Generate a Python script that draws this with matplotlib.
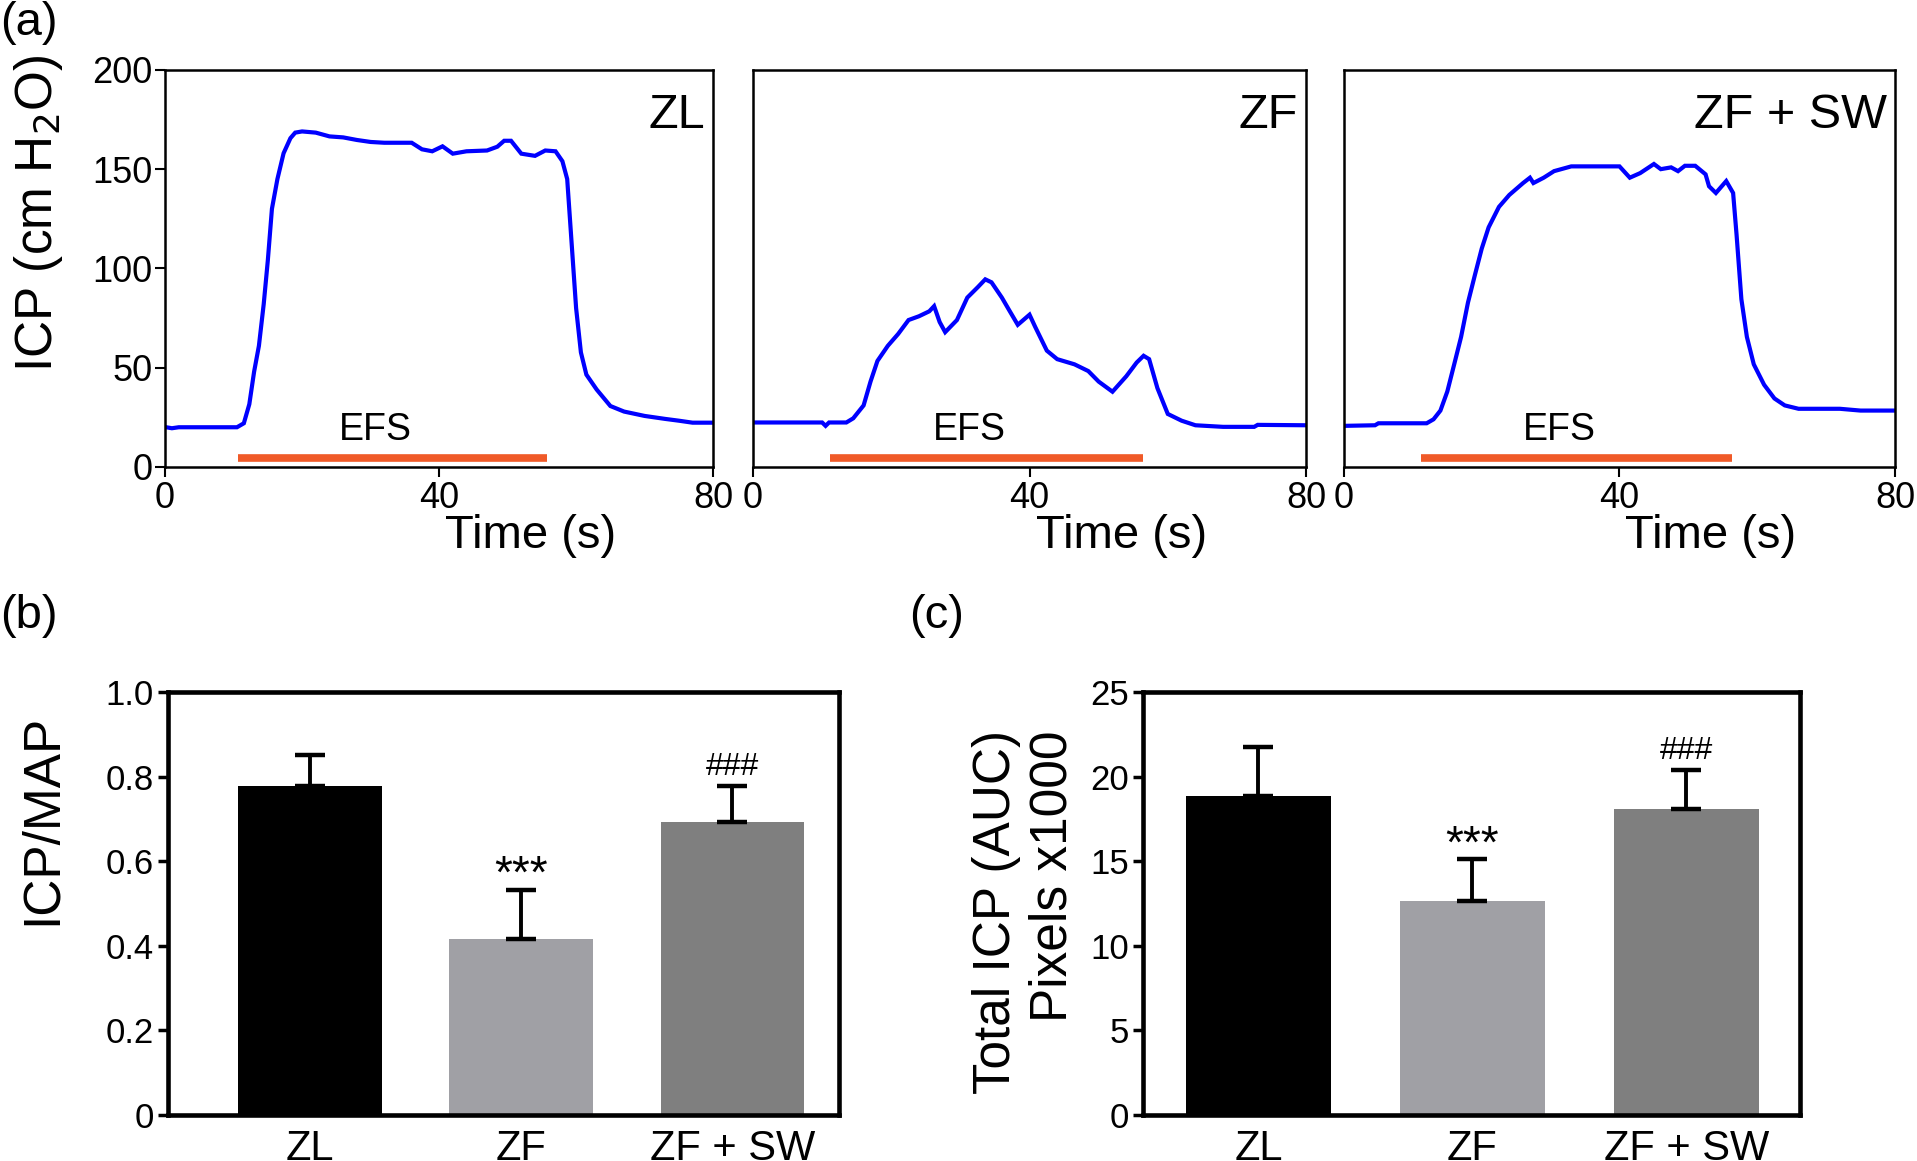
import matplotlib
matplotlib.use('Agg')
import matplotlib.pyplot as plt

plt.rcParams['font.family'] = ['Liberation Sans', 'DejaVu Sans']

# ---------------- data ----------------
zl_t = [0, 1, 2, 10.5, 11.5, 12.3, 13, 13.7, 14.4, 15, 15.6, 16.4, 17.3, 18.3, 19, 20, 22, 24, 26, 28,
        30, 32, 34, 36, 37.5, 39, 40.5, 42, 44, 47, 48.5, 49.5, 50.5, 52, 54, 55.5, 57, 58, 58.7, 59.3,
        60, 60.7, 61.5, 63, 65, 67, 70, 73, 75, 77, 80]
zl_icp = [20.1, 19.5, 20, 20, 22, 31.6, 48, 61, 82, 104, 130, 145, 158, 165.6, 168.4, 169, 168.4, 166.5, 166, 164.7,
          163.7, 163.3, 163.3, 163.3, 160, 159, 161.5, 157.8, 159, 159.4, 161.3, 164.3, 164.3, 157.8, 156.7, 159.4, 159, 154, 145, 115,
          80, 57.7, 46.5, 39, 30.7, 27.9, 25.7, 24.2, 23.3, 22.3, 22.3]

zf_t = [0, 10, 10.5, 11, 13.5, 14.5, 16, 17, 18, 19.5, 21, 22.5, 24, 25.5, 26.2, 27, 27.8, 29.5, 31, 32.5,
        33.6, 34.5, 36, 37, 38.3, 40, 40.8, 42.5, 44, 46.5, 48.5, 50, 52, 54, 55.5, 56.5, 57.3, 58.5, 60, 62,
        64, 68, 72.5, 73, 80]
zf_icp = [22.4, 22.4, 20.7, 22.4, 22.4, 24.5, 31, 43, 53.4, 61, 67, 74, 75.9, 78.4, 81, 73, 67.9, 74, 85.3, 90.5,
          94.5, 93, 85.3, 79.3, 71.6, 76.7, 70.7, 58.6, 54.3, 51.7, 48.3, 43, 37.9, 45.7, 52.6, 56, 54.3, 39.7, 26.7, 23.3,
          21, 20.2, 20.2, 21.2, 21]

sw_t = [0, 4.5, 5, 12, 13, 14, 15, 16, 17, 18, 19, 20, 21, 22.5, 24, 26, 27, 27.5, 29, 30.5,
        33, 38, 40, 41.5, 43, 45, 46, 47.5, 48.5, 49.5, 51, 52.5, 53, 54, 55.5, 56.5, 57, 57.7, 58.5, 59.5,
        61, 62.5, 64, 66, 72, 75, 80]
sw_icp = [20.7, 21, 22, 22, 24, 28.4, 38, 51.7, 65.5, 82.8, 96.6, 110, 120.7, 131, 137, 143, 145.7, 143, 145.7, 149,
          151.4, 151.4, 151.4, 145.7, 148, 152.6, 150, 150.9, 149, 151.7, 151.7, 147.4, 141.4, 138, 144, 138, 117, 84.5, 65.5, 51.7,
          41.4, 34.5, 31, 29.3, 29.3, 28.4, 28.4]

trace_names = ['ZL', 'ZF', 'ZF + SW']
efs_start = [10.6, 11.2, 11.2]
efs_end = [55.7, 56.4, 56.4]
efs_level = 4.6

groups = ['ZL', 'ZF', 'ZF + SW']
icp_map_mean = [0.779, 0.416, 0.692]
icp_map_err = [0.073, 0.117, 0.085]
icp_map_marks = ['', '***', '###']
auc_mean = [18.87, 12.67, 18.06]
auc_err = [2.86, 2.45, 2.34]
auc_marks = ['', '***', '###']
bar_colors = ['#000000', '#a0a0a5', '#7f7f7f']

# ---------------- figure ----------------
fig = plt.figure(figsize=(19.17, 11.61), dpi=100)

top_axes = [
    [0.0861, 0.5978, 0.2859, 0.342],
    [0.3928, 0.5978, 0.2885, 0.342],
    [0.7011, 0.5978, 0.2874, 0.342],
]
traces = [(zl_t, zl_icp), (zf_t, zf_icp), (sw_t, sw_icp)]

for i, rect in enumerate(top_axes):
    ax = fig.add_axes(rect)
    t, v = traces[i]
    ax.plot(t, v, color='#0000ff', lw=3.0, solid_joinstyle='miter')
    ax.plot([efs_start[i], efs_end[i]], [efs_level, efs_level], color='#f05a28', lw=5.5,
            solid_capstyle='butt')
    ax.text((efs_start[i] + efs_end[i]) / 2 - 2.5, 9.5, 'EFS', ha='center', va='bottom', fontsize=27)
    ax.text(0.985, 0.885, trace_names[i], transform=ax.transAxes, ha='right', va='center', fontsize=35)
    ax.set_xlim(0, 80)
    ax.set_ylim(0, 200)
    ax.set_xticks([0, 40, 80])
    ax.set_yticks([0, 50, 100, 150, 200])
    for s in ax.spines.values():
        s.set_linewidth(1.8)
    ax.tick_params(axis='both', direction='out', length=7, width=1.5, labelsize=26, pad=3)
    ax.set_xlabel('Time (s)', fontsize=34)
    ax.xaxis.set_label_coords(0.666, -0.118)
    if i == 0:
        ax.set_ylabel('ICP (cm H$_2$O)', fontsize=37)
        ax.yaxis.set_label_coords(-0.182, 0.640)
        ax.tick_params(axis='y', pad=2)
    else:
        ax.tick_params(axis='y', left=False, labelleft=False)

fig.text(0.0, 0.999, '(a)', ha='left', va='top', fontsize=34)
fig.text(0.0, 0.488, '(b)', ha='left', va='top', fontsize=34)
fig.text(0.474, 0.488, '(c)', ha='left', va='top', fontsize=34)


def bar_panel(rect, means, errs, marks, ylim, yticks, yticklabels, ylabel, label_xy, hash_off, xlim):
    ax = fig.add_axes(rect)
    x = list(range(len(groups)))
    ax.bar(x, means, width=0.68, color=bar_colors, zorder=2)
    ax.errorbar(x, means, yerr=[[0] * len(errs), errs], fmt='none', ecolor='black',
                elinewidth=2.8, capsize=11, capthick=3.2, zorder=3)
    for xi, m, e, mk in zip(x, means, errs, marks):
        if mk == '***':
            ax.text(xi, m + e + hash_off * 0.15, mk, ha='center', va='baseline', fontsize=33)
        elif mk:
            ax.text(xi, m + e + hash_off, mk, ha='center', va='baseline', fontsize=23)
    ax.set_xlim(*xlim)
    ax.set_ylim(*ylim)
    ax.set_xticks(x)
    ax.set_xticklabels(groups)
    ax.set_yticks(yticks)
    ax.set_yticklabels(yticklabels)
    for s in ax.spines.values():
        s.set_linewidth(3.3)
    ax.tick_params(axis='y', direction='out', length=7, width=2.5, labelsize=25, pad=3)
    ax.tick_params(axis='x', length=0, labelsize=30, pad=10)
    ax.set_ylabel(ylabel, fontsize=37, multialignment='right')
    ax.yaxis.set_label_coords(*label_xy)
    return ax


bar_panel([0.0874, 0.0396, 0.3505, 0.3643], icp_map_mean, icp_map_err, icp_map_marks,
          (0, 1.0), [0, 0.2, 0.4, 0.6, 0.8, 1.0], ['0', '0.2', '0.4', '0.6', '0.8', '1.0'],
          'ICP/MAP', (-0.150, 0.70), 0.026, (-0.675, 2.507))

bar_panel([0.5962, 0.0396, 0.3427, 0.3643], auc_mean, auc_err, auc_marks,
          (0, 25), [0, 5, 10, 15, 20, 25], ['0', '5', '10', '15', '20', '25'],
          'Total ICP (AUC)\nPixels x1000', (-0.100, 0.48), 0.65, (-0.54, 2.53))

fig.savefig('out.png', dpi=100)
